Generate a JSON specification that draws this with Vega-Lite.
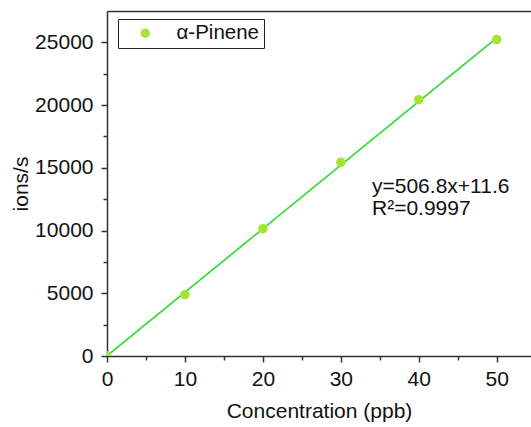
{
  "$schema": "https://vega.github.io/schema/vega-lite/v6.json",
  "autosize": {"type": "none"},
  "width": 424,
  "height": 345,
  "padding": {"left": 107, "top": 11, "right": 0, "bottom": 71},
  "background": "white",
  "config": {
    "view": {"stroke": null},
    "font": "Liberation Sans",
    "legend": {"strokeWidth": 1},
    "axis": {"labelFont": "Liberation Sans", "titleFont": "Liberation Sans", "labelFontSize": 21, "titleFontSize": 21, "titleFontWeight": "normal", "labelColor": "#111", "titleColor": "#111", "domainColor": "#333", "tickColor": "#333", "domainWidth": 1.5, "tickWidth": 1.5, "grid": false, "labelFlush": false, "labelOverlap": false}
  },
  "datasets": {
    "pts": [
      {"conc": 0, "ions": 20, "series": "α-Pinene"},
      {"conc": 10, "ions": 4890, "series": "α-Pinene"},
      {"conc": 20, "ions": 10150, "series": "α-Pinene"},
      {"conc": 30, "ions": 15450, "series": "α-Pinene"},
      {"conc": 40, "ions": 20430, "series": "α-Pinene"},
      {"conc": 50, "ions": 25220, "series": "α-Pinene"}
    ],
    "fit": [
      {"conc": 0, "ions": 11.6},
      {"conc": 50, "ions": 25351.6}
    ],
    "note": [
      {"conc": 34, "ions": 13000, "label": "y=506.8x+11.6"},
      {"conc": 34, "ions": 11250, "label": "R²=0.9997"}
    ]
  },
  "resolve": {"axis": {"x": "independent", "y": "independent"}},
  "layer": [
    {
      "data": {"name": "fit"},
      "mark": {"type": "line", "color": "#2bdc2b", "strokeWidth": 1.6, "clip": true},
      "encoding": {
        "x": {"field": "conc", "type": "quantitative", "scale": {"domain": [0, 54.4], "nice": false, "zero": false},
              "axis": {"orient": "bottom", "values": [0, 10, 20, 30, 40, 50], "format": "d", "tickSize": 6, "labelPadding": 6, "title": "Concentration (ppb)", "titlePadding": 11}},
        "y": {"field": "ions", "type": "quantitative", "scale": {"domain": [0, 27500], "nice": false, "zero": false},
              "axis": {"orient": "left", "values": [0, 5000, 10000, 15000, 20000, 25000], "format": "d", "tickSize": 6, "labelPadding": 8, "title": "ions/s", "titlePadding": 3}}
      }
    },
    {
      "data": {"name": "pts"},
      "mark": {"type": "point", "filled": true, "opacity": 1, "size": 90, "clip": true},
      "encoding": {
        "x": {"field": "conc", "type": "quantitative",
              "axis": {"orient": "bottom", "values": [5, 15, 25, 35, 45], "tickSize": 4, "labels": false, "domain": false, "title": null}},
        "y": {"field": "ions", "type": "quantitative",
              "axis": {"orient": "left", "values": [2500, 7500, 12500, 17500, 22500], "tickSize": 4, "labels": false, "domain": false, "title": null}},
        "color": {"field": "series", "type": "nominal", "scale": {"range": ["#a6e433"]},
                  "legend": {"title": null, "orient": "none", "legendX": 11, "legendY": 8, "strokeColor": "#222", "padding": 4,
                             "symbolType": "circle", "symbolSize": 90, "symbolOffset": 13, "labelOffset": 21, "labelFont": "Liberation Sans", "labelFontSize": 20.5, "labelColor": "#111", "fillColor": "white"}}
      }
    },
    {
      "data": {"name": "note"},
      "mark": {"type": "text", "align": "left", "baseline": "alphabetic", "fontSize": 21, "font": "Liberation Sans", "color": "#111"},
      "encoding": {
        "x": {"field": "conc", "type": "quantitative",
              "axis": {"orient": "top", "ticks": false, "labels": false, "title": null}},
        "y": {"field": "ions", "type": "quantitative", "axis": null},
        "text": {"field": "label"}
      }
    }
  ]
}
